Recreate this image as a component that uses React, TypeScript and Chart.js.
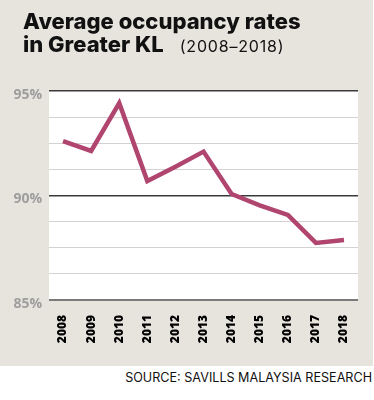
import React, { useEffect, useRef } from "react";
import { Chart, registerables } from "chart.js";

Chart.register(...registerables);

const years = ["2008", "2009", "2010", "2011", "2012", "2013", "2014", "2015", "2016", "2017", "2018"];
const occupancy = [92.6, 92.13, 94.42, 90.69, 91.38, 92.1, 90.07, 89.53, 89.07, 87.73, 87.87];
const yMin = 85;
const yMax = 95;
const yStep = 1.25;

const titleLine1 = "Average occupancy rates";
const titleLine2 = "in Greater KL";
const titleYears = "(2008–2018)";
const sourceText = "SOURCE: SAVILLS MALAYSIA RESEARCH";

const BEIGE = "#e7e4de";
const LINE = "#b0466f";

const plotBg = {
  id: "plotBg",
  beforeDraw(chart: any) {
    const { ctx, chartArea } = chart;
    ctx.save();
    ctx.fillStyle = "#ffffff";
    ctx.fillRect(chartArea.left, chartArea.top, chartArea.right - chartArea.left, chartArea.bottom - chartArea.top);
    ctx.restore();
  },
};

const isMajor = (v: number) => Math.abs(v % 5) < 1e-6;

export default function App() {
  const ref = useRef<HTMLCanvasElement | null>(null);

  useEffect(() => {
    document.body.style.margin = "0";
    if (!ref.current) return;
    const chart = new Chart(ref.current, {
      type: "line",
      data: {
        labels: years,
        datasets: [
          {
            data: occupancy,
            borderColor: LINE,
            borderWidth: 4.5,
            pointRadius: 0,
            tension: 0,
            borderJoinStyle: "miter",
            fill: false,
          },
        ],
      },
      options: {
        animation: false,
        responsive: false,
        maintainAspectRatio: false,
        events: [],
        layout: { padding: { top: 91, right: 13, left: 0, bottom: 0 } },
        plugins: { legend: { display: false }, tooltip: { enabled: false }, title: { display: false } },
        scales: {
          x: {
            offset: true,
            grid: { display: false, drawTicks: false },
            border: { display: false },
            ticks: {
              minRotation: 90,
              maxRotation: 90,
              autoSkip: false,
              padding: 15,
              color: "#000000",
              font: { family: "'Open Sans', sans-serif", size: 12, weight: 800 },
            },
            afterFit(scale: any) {
              scale.height = 66;
            },
          },
          y: {
            min: yMin,
            max: yMax,
            border: { display: false },
            grid: {
              drawTicks: false,
              color: (c: any) => {
                const v = c.tick.value;
                if (Math.abs(v - yMin) < 1e-6) return "#7a7a7a";
                return isMajor(v) ? "#3a3a3a" : "#d2d2d2";
              },
              lineWidth: (c: any) => {
                const v = c.tick.value;
                if (Math.abs(v - yMin) < 1e-6) return 2;
                return isMajor(v) ? 1.5 : 1;
              },
            },
            ticks: {
              stepSize: yStep,
              padding: 7,
              labelOffset: 4,
              color: "#9e9e9e",
              font: { family: "'Open Sans', sans-serif", size: 14, weight: "bold" },
              callback: (v: any) => (isMajor(Number(v)) ? `${v}%` : ""),
            },
            afterFit(scale: any) {
              scale.width = 49;
            },
          },
        },
      },
      plugins: [plotBg],
    } as any);
    return () => chart.destroy();
  }, []);

  return (
    <div style={{ position: "relative", width: 374, height: 400, background: "#ffffff", overflow: "hidden" }}>
      <div style={{ position: "absolute", left: 0, top: 0, width: 373, height: 366, background: BEIGE }} />
      <canvas ref={ref} width={374} height={366} style={{ position: "absolute", left: 0, top: 0, width: 374, height: 366 }} />
      <div
        style={{
          position: "absolute",
          left: 23,
          top: 10,
          fontFamily: "Inter, sans-serif",
          fontWeight: 800,
          fontSize: 22,
          lineHeight: "23px",
          color: "#111111",
          whiteSpace: "nowrap",
        }}
      >
        <div>{titleLine1}</div>
        <div>
          {titleLine2}
          <span style={{ fontWeight: 400, fontSize: 16, letterSpacing: 0.8, marginLeft: 16 }}>{titleYears}</span>
        </div>
      </div>
      <div
        style={{
          position: "absolute",
          right: 2,
          top: 370,
          fontFamily: "Inter, sans-serif",
          fontWeight: 400,
          fontSize: 12.6,
          color: "#111111",
          whiteSpace: "nowrap",
        }}
      >
        {sourceText}
      </div>
    </div>
  );
}
